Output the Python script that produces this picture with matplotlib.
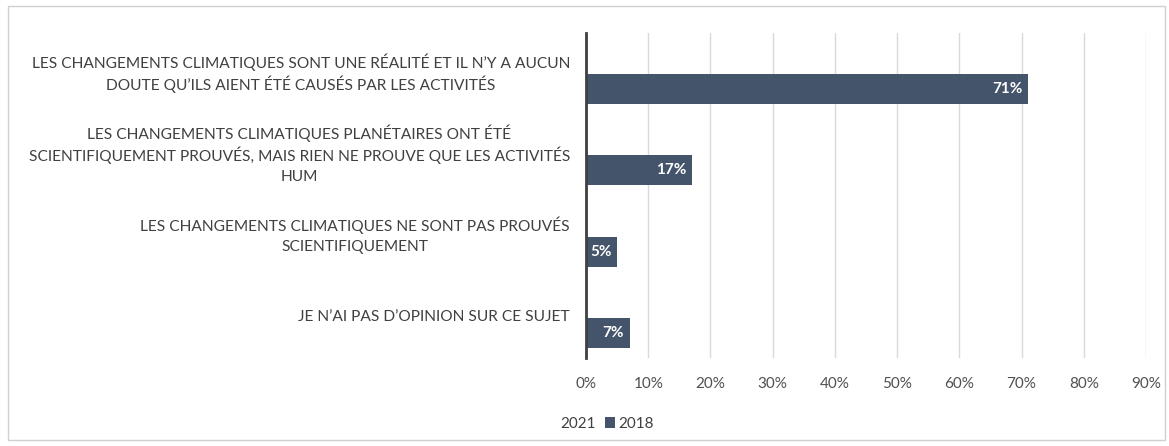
import matplotlib
matplotlib.use("Agg")
import matplotlib.pyplot as plt
import matplotlib.transforms as mtransforms
from matplotlib.patches import Patch, Rectangle
import numpy as np

categories = [
    "LES CHANGEMENTS CLIMATIQUES SONT UNE RÉALITÉ ET IL N’Y A AUCUN\nDOUTE QU’ILS AIENT ÉTÉ CAUSÉS PAR LES ACTIVITÉS",
    "LES CHANGEMENTS CLIMATIQUES PLANÉTAIRES ONT ÉTÉ\nSCIENTIFIQUEMENT PROUVÉS, MAIS RIEN NE PROUVE QUE LES ACTIVITÉS\nHUM",
    "LES CHANGEMENTS CLIMATIQUES NE SONT PAS PROUVÉS\nSCIENTIFIQUEMENT",
    "JE N’AI PAS D’OPINION SUR CE SUJET",
]
values_2018 = [71, 17, 5, 7]
values_2021 = [0, 0, 0, 0]
xticks = [0, 10, 20, 30, 40, 50, 60, 70, 80, 90]
xtick_labels = ["0%", "10%", "20%", "30%", "40%", "50%", "60%", "70%", "80%", "90%"]

plt.rcParams['font.family'] = ['Lato', 'DejaVu Sans']

W, H = 1169, 446
fig = plt.figure(figsize=(W / 100, H / 100), dpi=100)
fig.patches.append(Rectangle((8 / W, 6 / H), 1157 / W, 434 / H, transform=fig.transFigure,
                             fill=False, edgecolor="#D0D0D0", linewidth=1))
ax = fig.add_axes([586 / W, 1 - 358 / H, (1146 - 586) / W, (358 - 33) / H])

n = len(categories)
y = np.arange(n)
bh = 0.37
off = 0.19
bars18 = ax.barh(y + off, values_2018, height=bh, color="#44546A", zorder=3)
bars21 = ax.barh(y - off, values_2021, height=bh, color="white", zorder=3)

for b, v in zip(bars18, values_2018):
    ax.text(b.get_width() - 0.9, b.get_y() + b.get_height() / 2, f"{v}%",
            ha="right", va="center", color="white", fontsize=11, fontweight="bold", zorder=4)

ax.set_ylim(n - 0.5, -0.5)
ax.set_xlim(0, 90)
ax.set_xticks(xticks)
ax.set_xticklabels(xtick_labels, fontsize=11, color="#505050")
ax.set_yticks(y)
ax.set_yticklabels([])
ax.tick_params(axis="y", length=0)
ax.tick_params(axis="x", length=0, pad=14)
ax.grid(axis="x", color="#D9D9D9", linewidth=1, zorder=0)
for s in ["top", "right", "bottom"]:
    ax.spines[s].set_visible(False)
ax.spines["left"].set_color("#404040")
ax.spines["left"].set_linewidth(2)
ax.spines["left"].set_zorder(5)

# category labels, one text per line, centred among themselves, block right-aligned
renderer = fig.canvas.get_renderer()
base = mtransforms.blended_transform_factory(fig.transFigure, ax.transData)
right_px = 570
line_px = 22
for i, lab in enumerate(categories):
    lines = lab.split("\n")
    nl = len(lines)
    texts = []
    for k, line in enumerate(lines):
        dy = ((nl - 1) / 2 - k) * line_px * 0.72
        tr = mtransforms.offset_copy(base, fig=fig, x=0, y=dy, units="points")
        t = fig.text(0, i, line, transform=tr, ha="center", va="center",
                     fontsize=11.2, color="#404040")
        texts.append(t)
    widths = [t.get_window_extent(renderer).width for t in texts]
    cx = right_px - max(widths) / 2
    for t in texts:
        t.set_x(cx / W)

handles = [Patch(facecolor="white", edgecolor="none"), Patch(facecolor="#44546A")]
fig.legend(handles, ["2021", "2018"], loc="center", bbox_to_anchor=(600 / W, 1 - 424 / H),
           ncol=2, frameon=False, fontsize=11, handlelength=0.7, handleheight=0.7,
           handletextpad=0.2, columnspacing=0.6, labelcolor="#404040")

fig.savefig("out.png", dpi=100)
